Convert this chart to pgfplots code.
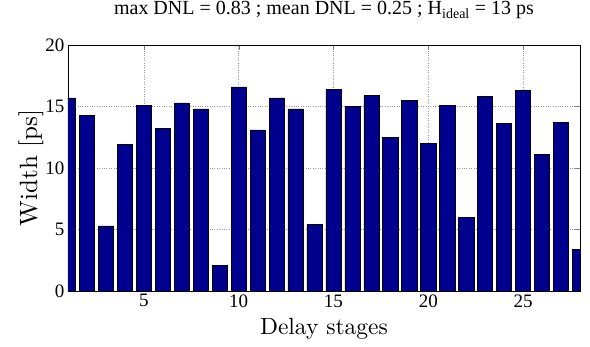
\documentclass[border=0pt]{standalone}
\usepackage{fontspec}
\usepackage{pgfplots}
\pgfplotsset{compat=1.18}
\newfontfamily\timesfont{Liberation Serif}
\definecolor{matblue}{RGB}{0,0,143}
\begin{document}
\begin{tikzpicture}
\begin{axis}[
  at={(0pt,0pt)}, anchor=south west,
  width=512pt, height=246pt, scale only axis,
  xmin=1, xmax=28, ymin=0, ymax=20,
  xtick={5,10,15,20,25}, ytick={0,5,10,15,20},
  tick align=inside, major tick length=5pt,
  grid=major,
  major grid style={dotted, gray!80, line width=0.5pt},
  axis line style={line width=0.6pt},
  /pgf/number format/assume math mode=true,
  tick label style={font=\timesfont\fontsize{19}{19}\selectfont},
  xlabel={Delay stages},
  ylabel={Width [ps]},
  xlabel style={font=\fontsize{10}{12}\selectfont, scale=2.35, at={(axis description cs:0.5,-0.175)}, anchor=base},
  ylabel style={font=\fontsize{10}{12}\selectfont, scale=2.5, at={(axis description cs:-0.0605,0.5)}, anchor=base},
  title={max DNL = 0.83 ; mean DNL = 0.25 ; H\textsubscript{ideal} = 13 ps},
  title style={font=\timesfont\fontsize{20}{20}\selectfont, at={(axis description cs:0.5,1.0976)}, anchor=base},
]
\addplot[ybar, bar width=0.8, fill=matblue, draw=black, line width=0.6pt] coordinates {
(1,15.7) (2,14.3) (3,5.3) (4,11.9) (5,15.1) (6,13.2) (7,15.3) (8,14.8)
(9,2.1) (10,16.6) (11,13.1) (12,15.7) (13,14.8) (14,5.4) (15,16.4) (16,15.0)
(17,15.9) (18,12.5) (19,15.5) (20,12.0) (21,15.1) (22,6.0) (23,15.8) (24,13.6)
(25,16.3) (26,11.1) (27,13.7) (28,3.4)
};
\end{axis}
\pgfresetboundingbox
\path (-68pt,-56pt) rectangle (522pt,291pt);
\end{tikzpicture}
\end{document}
